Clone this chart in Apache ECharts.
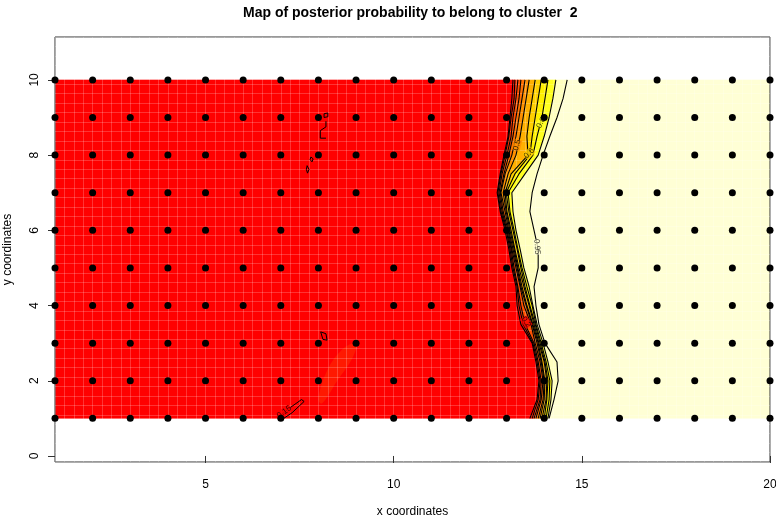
<!DOCTYPE html>
<html>
<head>
<meta charset="utf-8">
<script src="https://cdn.jsdelivr.net/npm/echarts@6/dist/echarts.min.js"></script>
<style>html,body{margin:0;padding:0;background:#fff}#main{width:776px;height:518px}</style>
</head>
<body>
<div id="main"></div>
<script>
// sampling sites
var gridX = [1,2,3,4,5,6,7,8,9,10,11,12,13,14,15,16,17,18,19,20];
var gridY = [1,2,3,4,5,6,7,8,9,10];

// contour x positions, one value per row of rowsY
var rowsY = [10,9.5,9,8.5,8,7.5,7,6.5,6,5.5,5,4.5,4,3.5,3,2.5,2,1.5,1];
var c05 = [13.17,13.14,13.09,13.04,12.93,12.83,12.75,12.83,12.96,13.06,13.14,13.25,13.28,13.38,13.68,13.78,13.86,13.81,13.62];
var c10 = [13.22,13.20,13.12,13.06,12.96,12.85,12.77,12.85,12.99,13.09,13.17,13.28,13.33,13.44,13.70,13.81,13.89,13.84,13.68];
var c20 = [13.30,13.25,13.17,13.12,13.01,12.88,12.80,12.88,13.01,13.12,13.20,13.30,13.38,13.49,13.73,13.84,13.92,13.89,13.73];
var c30 = [13.38,13.33,13.25,13.17,13.06,12.93,12.83,12.91,13.04,13.14,13.25,13.36,13.46,13.65,13.76,13.89,13.97,13.92,13.78];
var c40 = [13.49,13.41,13.33,13.25,13.14,12.96,12.85,12.96,13.06,13.17,13.28,13.38,13.52,13.68,13.81,13.92,14.00,13.97,13.84];
var c50 = [13.60,13.52,13.44,13.36,13.25,13.04,12.91,12.99,13.09,13.20,13.30,13.41,13.54,13.70,13.84,13.94,14.02,14.00,13.89];
var c60 = [13.76,13.68,13.60,13.54,13.57,13.12,12.96,13.01,13.12,13.22,13.33,13.46,13.60,13.73,13.86,14.00,14.07,14.05,13.94];
var c70 = [13.92,13.84,13.76,13.68,13.62,13.22,12.99,13.06,13.17,13.28,13.38,13.49,13.62,13.76,13.89,14.02,14.10,14.07,14.00];
var c80 = [14.10,14.02,13.94,13.81,13.70,13.33,13.04,13.09,13.20,13.30,13.41,13.54,13.68,13.78,13.92,14.05,14.15,14.13,14.05];
var c90 = [14.31,14.23,14.13,14.00,13.84,13.49,13.14,13.17,13.25,13.36,13.46,13.60,13.70,13.81,13.97,14.10,14.21,14.18,14.10];
var c95 = [14.61,14.50,14.34,14.15,13.97,13.81,13.68,13.62,13.73,13.84,13.84,13.73,13.78,13.86,14.02,14.34,14.37,14.26,14.13];
var levels = [c05,c10,c20,c30,c40,c50,c60,c70,c80,c90,c95];

// small isolated contours in the red part
var loops = [
  [[8.15,9.1],[8.25,9.12],[8.25,9.02],[8.15,9.0],[8.15,9.1]],
  [[8.2,8.9],[8.2,8.75],[8.05,8.65],[8.05,8.45],[8.2,8.45]],
  [[7.8,7.95],[7.86,7.9],[7.83,7.82],[7.78,7.88],[7.8,7.95]],
  [[7.7,7.72],[7.75,7.62],[7.71,7.52],[7.68,7.62],[7.7,7.72]],
  [[8.06,3.3],[8.2,3.25],[8.23,3.08],[8.12,3.1],[8.06,3.3]],
  [[6.93,1.03],[7.2,1.25],[7.55,1.5],[7.62,1.45],[7.3,1.15],[7.05,0.98]]
];
var patch = [[8.0,1.5],[8.2,2.2],[8.6,2.8],[9.0,3.0],[8.9,2.6],[8.5,2.0],[8.1,1.4]];

var labelText = ['0.5','0.6','0.8','0.95','0.2','0.15'];
var labelXY = [[13.28,8.27],[13.6,8.05],[13.92,8.86],[13.81,5.56],[13.52,3.56],[7.09,1.17]];

var xTicks = [5,10,15,20];
var yTicks = [0,2,4,6,8,10];

// heat colours from low (left) to high (right)
var zoneColors = ['#FF0000','#FF1000','#FF3000','#FF5000','#FF7000','#FF9000','#FFB000','#FFD000','#FFF000','#FFFF20','#FFFFBE','#FFFFD5'];
var labelRot = [75, 45, 62, -86, -55, 35];
var labelBg = ['#FF9000','#FFD000','#FFFF20','#FFFFD5','#FF0000','#FF0000'];

var leftEdge = rowsY.map(function(){ return gridX[0]; });
var rightEdge = rowsY.map(function(){ return gridX[gridX.length-1]; });
var bounds = [leftEdge].concat(levels).concat([rightEdge]);

var points = [];
gridX.forEach(function(x){ gridY.forEach(function(y){ points.push([x,y]); }); });

var font = 'Liberation Sans, Arial, Helvetica, sans-serif';
var series = [];

series.push({
  type: 'custom',
  z: -1,
  clip: true,
  silent: true,
  data: zoneColors.map(function(c,i){ return [i]; }),
  renderItem: function(params, api) {
    var i = api.value(0);
    var L = bounds[i], R = bounds[i+1];
    var pts = [];
    rowsY.forEach(function(y,k){ pts.push(api.coord([L[k], y])); });
    for (var k = rowsY.length-1; k >= 0; k--) pts.push(api.coord([R[k], rowsY[k]]));
    return { type: 'polygon', shape: { points: pts }, style: { fill: zoneColors[i], stroke: zoneColors[i], lineWidth: 0.5 } };
  }
});
series.push({
  type: 'custom',
  z: -1,
  silent: true,
  data: [[0]],
  renderItem: function(params, api) {
    return { type: 'polygon', shape: { points: patch.map(function(p){ return api.coord(p); }), smooth: 0.4 },
      style: { fill: '#FF2A00', opacity: 0.6 } };
  }
});

levels.forEach(function(lv){
  series.push({
    type: 'line', silent: true, showSymbol: false, z: 3,
    lineStyle: { color: '#000', width: 1.1 },
    data: rowsY.map(function(y,k){ return [lv[k], y]; })
  });
});
loops.forEach(function(lp){
  series.push({
    type: 'line', silent: true, showSymbol: false, z: 3,
    lineStyle: { color: '#000', width: 1 },
    data: lp
  });
});

series.push({
  type: 'scatter', silent: true, z: 4, symbolSize: 0,
  data: labelXY.map(function(p,i){
    return { value: p, label: { show: true, formatter: labelText[i], rotate: labelRot[i], position: 'inside',
      fontSize: 8, color: '#000', fontFamily: font, backgroundColor: labelBg[i], padding: 0 } };
  })
});

series.push({
  type: 'scatter', silent: true, z: 5, symbolSize: 7,
  itemStyle: { color: '#000', opacity: 1 },
  data: points
});

var chart = echarts.init(document.getElementById('main'));
chart.setOption({
  animation: false,
  title: {
    text: 'Map of posterior probability to belong to cluster  2',
    left: 238, top: 1,
    textStyle: { fontSize: 14, fontWeight: 'bold', color: '#000', fontFamily: font }
  },
  grid: { left: 55, right: 6, top: 37, bottom: 56, outerBoundsMode: 'none', containLabel: false,
    show: true, borderColor: '#333', borderWidth: 1, backgroundColor: 'transparent' },
  xAxis: [{
    type: 'value', min: 1, max: 20,
    name: 'x coordinates', nameLocation: 'middle', nameGap: 44,
    nameTextStyle: { fontSize: 12, color: '#000', fontFamily: font },
    axisLine: { show: false },
    axisTick: { show: true, length: 7, customValues: xTicks, lineStyle: { color: '#333' } },
    axisLabel: { customValues: xTicks, fontSize: 12, color: '#000', margin: 17, fontFamily: font },
    splitLine: { show: false }
  }, {
    type: 'value', min: 1, max: 20, interval: 0.25, position: 'top',
    axisLine: { show: false }, axisTick: { show: false }, axisLabel: { show: false },
    splitLine: { show: true, lineStyle: { color: 'rgba(255,255,255,0.2)', width: 1 } }
  }],
  yAxis: [{
    type: 'value', min: -0.16, max: 11.14,
    name: 'y coordinates', nameLocation: 'middle', nameGap: 41,
    nameTextStyle: { fontSize: 12, color: '#000', fontFamily: font },
    axisLine: { show: false },
    axisTick: { show: true, length: 7, customValues: yTicks, lineStyle: { color: '#333' } },
    axisLabel: { customValues: yTicks, fontSize: 12, color: '#000', rotate: 90, margin: 14, fontFamily: font },
    splitLine: { show: false }
  }, {
    type: 'value', min: 0, max: 11.25, interval: 0.25, position: 'right',
    axisLine: { show: false }, axisTick: { show: false }, axisLabel: { show: false },
    splitLine: { show: true, lineStyle: { color: 'rgba(255,255,255,0.2)', width: 1 } }
  }],
  series: series
});
</script>
</body>
</html>
